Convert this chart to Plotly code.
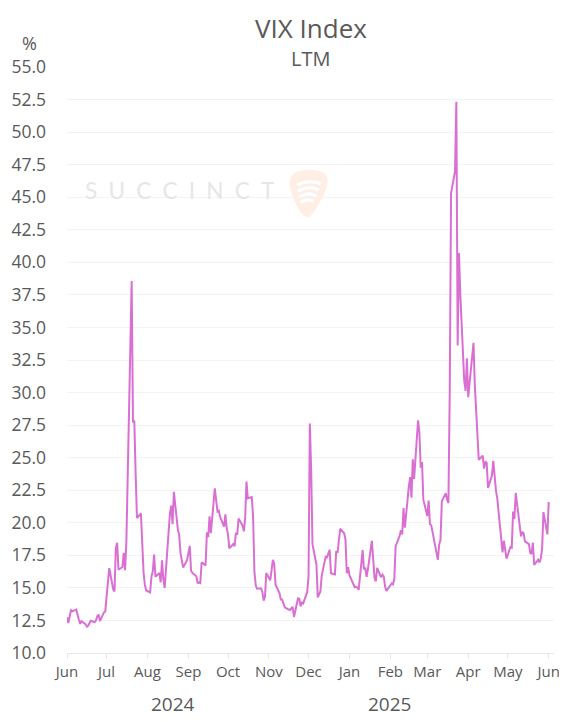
import base64
import pandas as pd
import plotly.graph_objects as go

# VIX daily closes (LTM to mid-June 2025)
dates_2024 = [
    "2024-06-17", "2024-06-18", "2024-06-20", "2024-06-21", "2024-06-24", "2024-06-25", "2024-06-26",
    "2024-06-27", "2024-06-28", "2024-07-01", "2024-07-02", "2024-07-03", "2024-07-05", "2024-07-08",
    "2024-07-09", "2024-07-10", "2024-07-11", "2024-07-12", "2024-07-15", "2024-07-16", "2024-07-17",
    "2024-07-18", "2024-07-19", "2024-07-22", "2024-07-23", "2024-07-24", "2024-07-25", "2024-07-26",
    "2024-07-29", "2024-07-30", "2024-07-31", "2024-08-01", "2024-08-02", "2024-08-05", "2024-08-06",
    "2024-08-07", "2024-08-08", "2024-08-09", "2024-08-12", "2024-08-13", "2024-08-14", "2024-08-15",
    "2024-08-16", "2024-08-19", "2024-08-20", "2024-08-21", "2024-08-22", "2024-08-23", "2024-08-26",
    "2024-08-27", "2024-08-28", "2024-08-29", "2024-08-30", "2024-09-03", "2024-09-04", "2024-09-05",
    "2024-09-06", "2024-09-09", "2024-09-10", "2024-09-11", "2024-09-12", "2024-09-13", "2024-09-16",
    "2024-09-17", "2024-09-18", "2024-09-19", "2024-09-20", "2024-09-23", "2024-09-24", "2024-09-25",
    "2024-09-26", "2024-09-27", "2024-09-30", "2024-10-01", "2024-10-02", "2024-10-03", "2024-10-04",
    "2024-10-07", "2024-10-08", "2024-10-09", "2024-10-10", "2024-10-11", "2024-10-14", "2024-10-15",
    "2024-10-16", "2024-10-17", "2024-10-18", "2024-10-21", "2024-10-22", "2024-10-23", "2024-10-24",
    "2024-10-25", "2024-10-28", "2024-10-29", "2024-10-30", "2024-10-31", "2024-11-01", "2024-11-04",
    "2024-11-05", "2024-11-06", "2024-11-07", "2024-11-08", "2024-11-11", "2024-11-12", "2024-11-13",
    "2024-11-14", "2024-11-15", "2024-11-18", "2024-11-19", "2024-11-20", "2024-11-21", "2024-11-22",
    "2024-11-25", "2024-11-26", "2024-11-27", "2024-11-29", "2024-12-02", "2024-12-03", "2024-12-04",
    "2024-12-05", "2024-12-06", "2024-12-09", "2024-12-10", "2024-12-11", "2024-12-12", "2024-12-13",
    "2024-12-16", "2024-12-17", "2024-12-18", "2024-12-19", "2024-12-20", "2024-12-23", "2024-12-24",
    "2024-12-26", "2024-12-27", "2024-12-30", "2024-12-31",
]
vix_2024 = [
    12.75, 12.30, 13.28, 13.20, 13.33, 12.84, 12.55,
    12.24, 12.44, 12.22, 12.03, 12.09, 12.48, 12.37,
    12.51, 12.85, 12.91, 12.46, 13.12, 13.19, 14.48,
    15.93, 16.52, 14.91, 14.72, 18.04, 18.46, 16.39,
    16.60, 17.69, 16.36, 18.59, 23.39, 38.57, 27.71,
    27.85, 23.79, 20.37, 20.71, 18.12, 16.19, 15.23,
    14.80, 14.65, 15.88, 16.27, 17.55, 15.86, 16.15,
    15.43, 17.11, 15.65, 15.00, 20.72, 21.32, 19.90,
    22.38, 19.45, 19.08, 17.69, 17.07, 16.56, 17.14,
    17.61, 18.23, 16.33, 16.15, 15.89, 15.39, 15.41,
    15.37, 16.96, 16.73, 19.26, 18.90, 20.49, 19.21,
    22.64, 21.42, 20.86, 20.93, 20.46, 19.70, 20.64,
    19.58, 19.11, 18.03, 18.37, 18.20, 19.24, 19.08,
    20.33, 19.80, 19.34, 20.35, 23.16, 21.88, 21.98,
    20.49, 16.27, 15.20, 14.94, 14.97, 14.71, 14.02,
    14.31, 16.14, 15.58, 16.35, 17.16, 16.87, 15.24,
    14.60, 14.10, 14.10, 13.51, 13.34, 13.30, 13.45,
    13.54, 12.77, 14.19, 14.18, 13.58, 13.92, 13.81,
    14.69, 15.87, 27.62, 24.09, 18.36, 16.78, 14.27,
    14.73, 15.95, 17.40, 17.35,
]
dates_2025 = [
    "2025-01-02", "2025-01-03", "2025-01-06", "2025-01-07", "2025-01-08", "2025-01-10", "2025-01-13",
    "2025-01-14", "2025-01-15", "2025-01-16", "2025-01-17", "2025-01-21", "2025-01-22", "2025-01-23",
    "2025-01-24", "2025-01-27", "2025-01-28", "2025-01-29", "2025-01-30", "2025-01-31", "2025-02-03",
    "2025-02-04", "2025-02-05", "2025-02-06", "2025-02-07", "2025-02-10", "2025-02-11", "2025-02-12",
    "2025-02-13", "2025-02-14", "2025-02-18", "2025-02-19", "2025-02-20", "2025-02-21", "2025-02-24",
    "2025-02-25", "2025-02-26", "2025-02-27", "2025-02-28", "2025-03-03", "2025-03-04", "2025-03-05",
    "2025-03-06", "2025-03-07", "2025-03-10", "2025-03-11", "2025-03-12", "2025-03-13", "2025-03-14",
    "2025-03-17", "2025-03-18", "2025-03-19", "2025-03-20", "2025-03-21", "2025-03-24", "2025-03-25",
    "2025-03-26", "2025-03-27", "2025-03-28", "2025-03-31", "2025-04-01", "2025-04-02", "2025-04-03",
    "2025-04-04", "2025-04-07", "2025-04-08", "2025-04-09", "2025-04-10", "2025-04-11", "2025-04-14",
    "2025-04-15", "2025-04-16", "2025-04-17", "2025-04-21", "2025-04-22", "2025-04-23", "2025-04-24",
    "2025-04-25", "2025-04-28", "2025-04-29", "2025-04-30", "2025-05-01", "2025-05-02", "2025-05-05",
    "2025-05-06", "2025-05-07", "2025-05-08", "2025-05-09", "2025-05-12", "2025-05-13", "2025-05-14",
    "2025-05-15", "2025-05-16", "2025-05-19", "2025-05-20", "2025-05-21", "2025-05-22", "2025-05-23",
    "2025-05-27", "2025-05-28", "2025-05-29", "2025-05-30", "2025-06-02", "2025-06-03", "2025-06-04",
    "2025-06-05", "2025-06-06", "2025-06-09", "2025-06-10", "2025-06-11", "2025-06-12", "2025-06-13",
    "2025-06-16", "2025-06-17",
]
vix_2025 = [
    17.93, 16.13, 16.04, 17.82, 17.70, 19.54, 19.19,
    18.71, 16.12, 16.60, 15.97, 15.06, 15.10, 15.02,
    14.85, 17.90, 16.41, 16.56, 15.84, 16.43, 18.62,
    17.21, 15.77, 15.50, 16.54, 15.81, 16.02, 15.89,
    15.10, 14.77, 15.35, 15.27, 15.66, 18.21, 18.98,
    19.43, 19.10, 21.13, 19.63, 22.78, 23.51, 21.93,
    24.87, 23.37, 27.86, 26.92, 24.23, 24.66, 21.77,
    20.51, 21.70, 19.90, 19.80, 19.28, 17.48, 17.15,
    18.33, 18.69, 21.65, 22.28, 21.77, 21.51, 30.02,
    45.31, 46.98, 52.33, 33.62, 40.72, 37.56, 30.89,
    30.12, 32.64, 29.65, 33.82, 30.57, 28.45, 26.47,
    24.84, 25.15, 24.17, 24.70, 24.60, 22.68, 23.64,
    24.76, 23.55, 22.48, 21.90, 18.39, 17.72, 18.62,
    17.83, 17.24, 18.14, 18.09, 20.87, 20.28, 22.29,
    18.96, 19.31, 19.18, 18.57, 18.36, 17.69, 17.61,
    18.48, 16.77, 17.16, 16.95, 17.26, 18.02, 20.82,
    19.11, 21.60,
]

dates = pd.to_datetime(dates_2024 + dates_2025)
vix = vix_2024 + vix_2025

y_ticks = [10 + 2.5 * i for i in range(19)]
year_labels = ["2024", "2025"]
year_label_x = ["2024-09-05", "2025-02-16"]

grey = "#595959"
line_col = "#DA6FD3"

fig = go.Figure(go.Scatter(
    x=dates, y=vix, mode="lines",
    line=dict(color=line_col, width=2),
    hovertemplate="%{x|%d %b %Y}: %{y:.2f}<extra></extra>",
))

# watermark logo (pale pick with white arcs)
logo_svg = """<svg xmlns='http://www.w3.org/2000/svg' width='40' height='48' viewBox='0 0 40 48'>
<path d='M5 5 C12 -1 33 -1 38 7 C42 16 30 36 22 46 C18 49 13 45 9 37 C3 25 -2 11 5 5 Z' fill='#FEEEE4'/>
<path d='M10 15 Q20 10 31 14' stroke='white' stroke-width='3.2' fill='none' stroke-linecap='round'/>
<path d='M11 21 Q20 16 29 20' stroke='white' stroke-width='3.2' fill='none' stroke-linecap='round'/>
<path d='M12 27 Q19 22 27 26' stroke='white' stroke-width='3.2' fill='none' stroke-linecap='round'/>
<path d='M13 32 Q18 29 24 31' stroke='white' stroke-width='3.2' fill='none' stroke-linecap='round'/>
</svg>"""
logo_src = "data:image/svg+xml;base64," + base64.b64encode(logo_svg.encode()).decode()

fig.add_layout_image(
    source=logo_src, xref="paper", yref="paper",
    x=0.454, y=0.826, sizex=0.084, sizey=0.084,
    xanchor="left", yanchor="top", layer="below", sizing="contain",
)
fig.add_annotation(
    text="\u2002".join("SUCCINCT"), xref="paper", yref="paper", x=0.033, y=0.790,
    xanchor="left", yanchor="middle", showarrow=False,
    font=dict(family="Lato, Open Sans", size=22.5, color="#E6E6E6"),
)

fig.add_annotation(
    text="VIX Index", xref="paper", yref="paper", x=0.5, y=1.066,
    xanchor="center", yanchor="middle", showarrow=False,
    font=dict(family="Open Sans", size=26, color=grey),
)
fig.add_annotation(
    text="LTM", xref="paper", yref="paper", x=0.5, y=1.015,
    xanchor="center", yanchor="middle", showarrow=False,
    font=dict(family="Open Sans", size=20, color=grey),
)
fig.add_annotation(
    text="%", xref="paper", yref="paper", x=-0.076, y=1.041,
    xanchor="center", yanchor="middle", showarrow=False,
    font=dict(family="Open Sans", size=18, color=grey),
)

for lbl, xd in zip(year_labels, year_label_x):
    fig.add_annotation(
        text=lbl, x=xd, xref="x", y=-0.087, yref="paper",
        xanchor="center", yanchor="middle", showarrow=False,
        font=dict(family="Open Sans", size=19, color=grey),
    )

# page body has an 8px margin, so the figure sits 8px in from the window corner
fig.update_layout(
    width=559, height=713,
    margin=dict(l=59, r=13, t=59, b=68),
    paper_bgcolor="white", plot_bgcolor="white",
    showlegend=False,
    font=dict(family="Open Sans", color=grey),
    xaxis=dict(
        type="date",
        range=["2024-06-17", "2025-06-21"],
        tick0="2024-06-17", dtick="M1", tickformat="%b",
        showgrid=False, showline=True, linecolor="#E6E6E6", linewidth=1,
        ticks="outside", ticklen=5, tickcolor="#E6E6E6",
        tickfont=dict(size=15, color=grey),
        zeroline=False, automargin=False,
    ),
    yaxis=dict(
        range=[10, 55], tickvals=y_ticks, tickformat=".1f",
        showgrid=True, gridcolor="#F3F3F3", gridwidth=1,
        zeroline=False, showline=False, ticks="",
        ticklabelstandoff=20, automargin=False,
        tickfont=dict(size=17.5, color=grey),
    ),
)

fig.write_html("out.html")
